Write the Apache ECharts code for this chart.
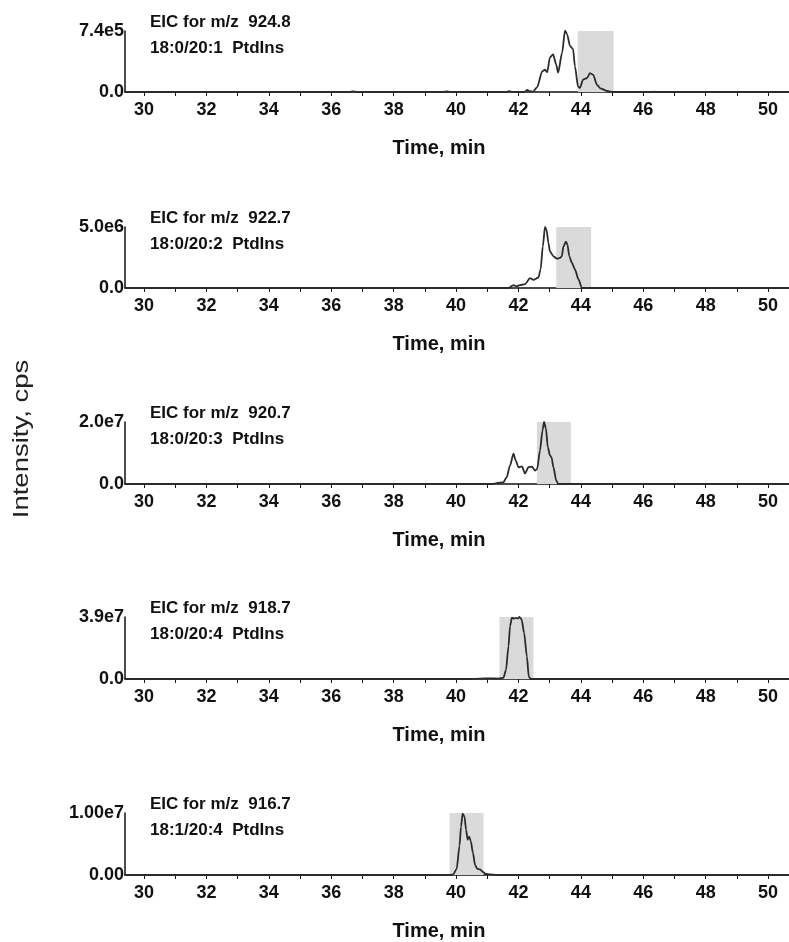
<!DOCTYPE html>
<html>
<head>
<meta charset="utf-8">
<title>EIC PtdIns</title>
<script src="https://cdn.jsdelivr.net/npm/echarts@6/dist/echarts.min.js"></script>
<style>
  html, body { margin: 0; padding: 0; background: #fff; }
  #chart { width: 789px; height: 942px; }
</style>
</head>
<body>
<div id="chart"></div>
<script>
// one trace per m/z, [time (min), intensity]
const eic924 = [
  [29.4, 0], [36.6, 0], [36.7, 0.08e5], [36.8, 0], [39.6, 0], [39.7, 0.06e5], [39.8, 0],
  [41.6, 0], [41.7, 0.1e5], [41.8, 0], [42.2, 0], [42.28, 0.25e5], [42.35, 0.1e5], [42.47, 0.05e5],
  [42.6, 0.6e5], [42.76, 2.5e5], [42.85, 2.7e5], [42.92, 2.4e5], [43.01, 4.2e5], [43.11, 4.56e5],
  [43.21, 3.33e5], [43.27, 2.34e5], [43.4, 4.8e5], [43.49, 7.44e5], [43.56, 7.0e5], [43.65, 5.6e5],
  [43.75, 5.2e5], [43.81, 3.1e5], [43.91, 0.65e5], [43.97, 0.5e5], [44.07, 1.5e5], [44.2, 1.7e5],
  [44.29, 2.3e5], [44.39, 2.1e5], [44.52, 0.86e5], [44.62, 0.45e5], [44.84, 0.12e5], [45.03, 0],
  [46.3, 0], [46.35, 0.05e5], [46.4, 0], [50.7, 0]
]
const eic922 = [
  [29.4, 0], [41.68, 0], [41.84, 0.24e6], [41.94, 0.14e6], [42.05, 0.24e6], [42.21, 0.32e6],
  [42.37, 0.81e6], [42.48, 0.67e6], [42.64, 0.86e6], [42.71, 1.53e6], [42.78, 3.4e6], [42.85, 5.0e6],
  [42.9, 4.76e6], [42.96, 3.68e6], [43.01, 3.0e6], [43.12, 2.6e6], [43.23, 2.4e6], [43.33, 2.47e6],
  [43.39, 2.6e6], [43.44, 3.4e6], [43.52, 3.8e6], [43.57, 3.55e6], [43.63, 2.6e6], [43.71, 2.07e6],
  [43.81, 1.53e6], [43.92, 0.73e6], [44.03, 0], [50.7, 0]
]
const eic920 = [
  [29.4, 0], [41.2, 0], [41.3, 0.03e7], [41.51, 0.05e7], [41.62, 0.21e7], [41.73, 0.6e7],
  [41.84, 0.98e7], [41.91, 0.76e7], [42.0, 0.54e7], [42.11, 0.57e7], [42.21, 0.34e7], [42.32, 0.54e7],
  [42.43, 0.56e7], [42.53, 0.43e7], [42.6, 0.49e7], [42.69, 1.08e7], [42.77, 1.73e7], [42.82, 2.0e7],
  [42.88, 1.79e7], [42.94, 1.19e7], [43.01, 0.92e7], [43.06, 0.86e7], [43.12, 0.54e7], [43.21, 0.11e7],
  [43.28, 0], [50.7, 0]
]
const eic918 = [
  [29.4, 0], [40.45, 0], [40.77, 0.02e7], [41.09, 0.04e7], [41.36, 0.02e7], [41.52, 0.08e7],
  [41.6, 0.57e7], [41.68, 2.05e7], [41.73, 3.33e7], [41.79, 3.86e7], [41.86, 3.8e7], [41.92, 3.84e7],
  [41.98, 3.8e7], [42.03, 3.9e7], [42.1, 3.75e7], [42.18, 2.9e7], [42.27, 1.42e7], [42.33, 0.15e7],
  [42.39, 0], [50.7, 0]
]
const eic916 = [
  [29.4, 0], [39.85, 0], [39.91, 0.01e7], [40.02, 0.1e7], [40.11, 0.47e7], [40.16, 0.78e7],
  [40.21, 0.99e7], [40.27, 0.94e7], [40.32, 0.73e7], [40.37, 0.57e7], [40.42, 0.62e7], [40.47, 0.55e7],
  [40.54, 0.36e7], [40.61, 0.16e7], [40.68, 0.1e7], [40.77, 0.09e7], [40.86, 0.05e7], [40.94, 0.02e7],
  [41.09, 0.01e7], [41.3, 0], [50.7, 0]
]

const traces = [eic924, eic922, eic920, eic918, eic916]
const mzLabels = ['EIC for m/z  924.8', 'EIC for m/z  922.7', 'EIC for m/z  920.7', 'EIC for m/z  918.7', 'EIC for m/z  916.7']
const speciesLabels = ['18:0/20:1  PtdIns', '18:0/20:2  PtdIns', '18:0/20:3  PtdIns', '18:0/20:4  PtdIns', '18:1/20:4  PtdIns']
const yMax = [7.4e5, 5.0e6, 2.0e7, 3.9e7, 1.0e7]
const yTopLabels = ['7.4e5', '5.0e6', '2.0e7', '3.9e7', '1.00e7']
const yZeroLabels = ['0.0', '0.0', '0.0', '0.0', '0.00']
// shaded integration windows [start, end] in min
const windows = [[43.9, 45.05], [43.21, 44.33], [42.59, 43.68], [41.39, 42.48], [39.79, 40.88]]
const timeLabels = [30, 32, 34, 36, 38, 40, 42, 44, 46, 48, 50]
const timeTicks = [30, 31, 32, 33, 34, 35, 36, 37, 38, 39, 40, 41, 42, 43, 44, 45, 46, 47, 48, 49, 50]

const gridTops = [31, 227, 422, 617, 813]
const gridHeights = [61, 61, 62, 62, 64]
const font = "'Liberation Sans', Arial, sans-serif"

const chart = echarts.init(document.getElementById('chart'), null, { renderer: 'canvas' })

const grids = [], xAxes = [], yAxes = [], series = [], titles = []
traces.forEach((data, i) => {
  grids.push({ left: 125, right: 0, top: gridTops[i], height: gridHeights[i] })
  xAxes.push({
    gridIndex: i,
    type: 'value',
    min: 29.39,
    max: 50.67,
    name: 'Time, min',
    nameLocation: 'middle',
    nameGap: 46,
    nameTextStyle: { fontFamily: font, fontSize: 20, fontWeight: 'bold', color: '#111', padding: [0, 36, 0, 0] },
    axisLine: { lineStyle: { color: '#111', width: 1.5 } },
    axisTick: { customValues: timeTicks, length: 4, lineStyle: { color: '#111' } },
    axisLabel: { customValues: timeLabels, fontFamily: font, fontSize: 18, fontWeight: 'bold', color: '#111', margin: 9 },
    splitLine: { show: false }
  })
  yAxes.push({
    gridIndex: i,
    type: 'value',
    min: 0,
    max: yMax[i],
    axisLine: { show: true, lineStyle: { color: '#111', width: 1.5 } },
    axisTick: { show: false },
    axisLabel: {
      customValues: [0, yMax[i]],
      fontFamily: font, fontSize: 18, fontWeight: 'bold', color: '#111', margin: 1,
      formatter: (v) => (v === 0 ? yZeroLabels[i] : yTopLabels[i])
    },
    splitLine: { show: false }
  })
  series.push({
    type: 'line',
    xAxisIndex: i,
    yAxisIndex: i,
    data: data,
    showSymbol: false,
    smooth: 0.25,
    smoothMonotone: 'x',
    lineStyle: { color: '#2b2b2b', width: 1.8 },
    markArea: {
      silent: true,
      itemStyle: { color: '#dadada' },
      data: [[{ xAxis: windows[i][0], yAxis: 0 }, { xAxis: windows[i][1], yAxis: yMax[i] }]]
    }
  })
  titles.push({
    text: mzLabels[i] + '\n' + speciesLabels[i],
    left: 150,
    top: gridTops[i] - 22,
    padding: 0,
    textStyle: { fontFamily: font, fontSize: 17, fontWeight: 'bold', color: '#111', lineHeight: 26 }
  })
})

chart.setOption({
  animation: false,
  backgroundColor: '#fff',
  title: titles,
  grid: grids,
  xAxis: xAxes,
  yAxis: yAxes,
  series: series,
  graphic: [{
    type: 'text',
    x: 22,
    y: 439,
    rotation: Math.PI / 2,
    scaleX: 1.25,
    style: {
      text: 'Intensity, cps',
      font: "22px 'Liberation Sans', Arial, sans-serif",
      fill: '#222',
      align: 'center',
      verticalAlign: 'middle'
    }
  }]
})
</script>
</body>
</html>
